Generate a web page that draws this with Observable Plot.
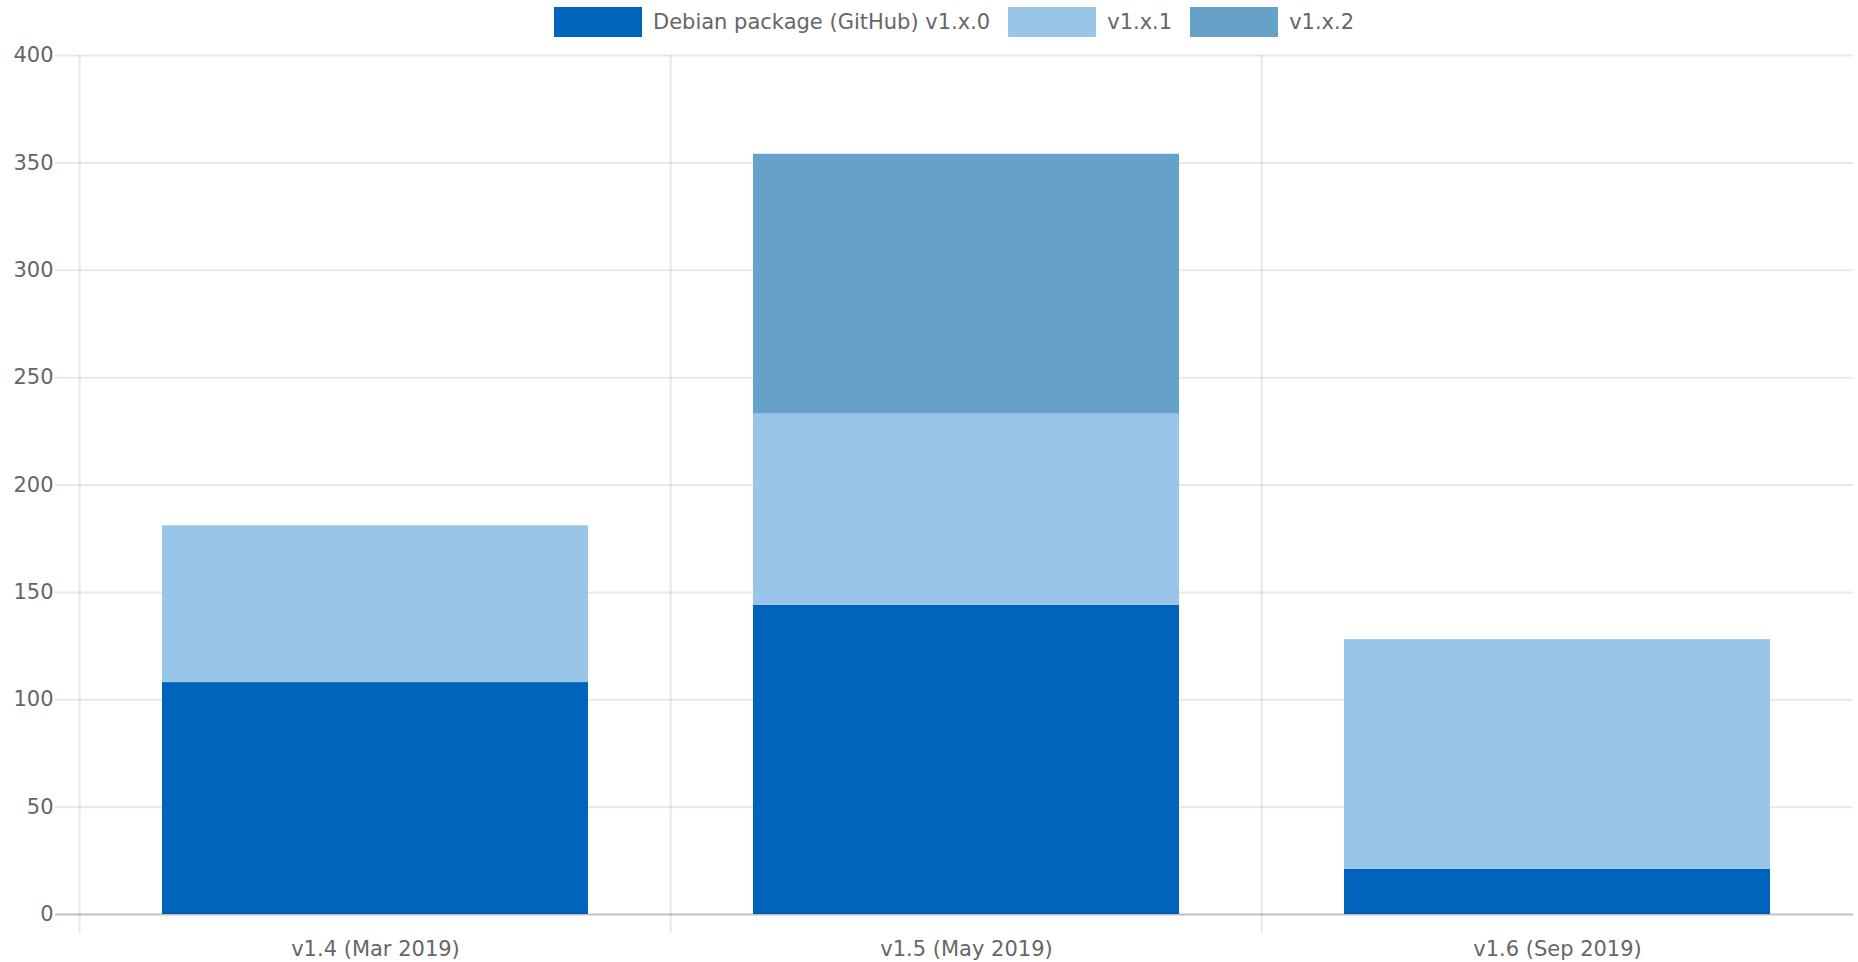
<!DOCTYPE html>
<html>
<head>
<meta charset="utf-8">
<script src="https://cdn.jsdelivr.net/npm/d3@7"></script>
<script src="https://cdn.jsdelivr.net/npm/@observablehq/plot@0.6"></script>
<style>
  body { margin: 0; background: #fff; font-family: "DejaVu Sans", sans-serif; }
  #legend { height: 40px; display: flex; align-items: flex-start; padding-left: 554px; box-sizing: border-box; }
  .item { display: flex; align-items: center; margin-top: 7px; margin-right: 18px; }
  .sw { width: 88px; height: 30px; margin-right: 11px; }
  .lab { font-size: 21px; color: #666; white-space: nowrap; }
</style>
</head>
<body>
<div id="legend"></div>
<div id="chart"></div>
<script>
// ---- data ----
const releases = ["v1.4 (Mar 2019)", "v1.5 (May 2019)", "v1.6 (Sep 2019)"];
const seriesNames = ["Debian package (GitHub) v1.x.0", "v1.x.1", "v1.x.2"];
const seriesColors = ["#0064bd", "#99c5e9", "#66a1c9"];
const patch0 = [108, 144, 21];
const patch1 = [73, 89, 107];
const patch2 = [0, 121, 0];
const yTicks = [0, 50, 100, 150, 200, 250, 300, 350, 400];

const seriesValues = [patch0, patch1, patch2];
const rows = [];
seriesNames.forEach((s, si) => {
  releases.forEach((r, ri) => {
    const v = seriesValues[si][ri];
    if (v > 0) rows.push({release: r, series: s, value: v});
  });
});

// ---- legend ----
const legend = document.getElementById("legend");
seriesNames.forEach((s, i) => {
  const item = document.createElement("div");
  item.className = "item";
  const sw = document.createElement("div");
  sw.className = "sw";
  sw.style.background = seriesColors[i];
  const lab = document.createElement("span");
  lab.className = "lab";
  lab.textContent = s;
  item.appendChild(sw);
  item.appendChild(lab);
  legend.appendChild(item);
});

// ---- chart ----
const W = 1858, H = 922, ML = 78, MR = 5, MT = 15, MB = 48;
const step = (W - ML - MR) / releases.length;

const chart = Plot.plot({
  width: W,
  height: H,
  marginLeft: ML,
  marginRight: MR,
  marginTop: MT,
  marginBottom: MB,
  style: {fontFamily: "DejaVu Sans, sans-serif", fontSize: "21px", color: "#666", background: "#fff"},
  x: {domain: releases, paddingInner: 0.28, paddingOuter: 0.14, label: null},
  y: {domain: [0, 400], label: null},
  color: {domain: seriesNames, range: seriesColors},
  marks: [
    Plot.ruleY(yTicks.filter(d => d > 0), {stroke: "#000", strokeOpacity: 0.09, strokeWidth: 2, insetLeft: -23}),
    Plot.ruleX(releases, {x: d => d, dx: -step / 2, stroke: "#000", strokeOpacity: 0.09, strokeWidth: 2, insetBottom: -19}),
    Plot.barY(rows, Plot.stackY({x: "release", y: "value", fill: "series"})),
    Plot.ruleY([0], {stroke: "#000", strokeOpacity: 0.25, strokeWidth: 2, insetLeft: -23}),
    Plot.axisY({ticks: yTicks, tickSize: 0, tickPadding: 25, label: null}),
    Plot.axisX({tickSize: 0, tickPadding: 27, label: null})
  ]
});
document.getElementById("chart").appendChild(chart);
</script>
</body>
</html>
